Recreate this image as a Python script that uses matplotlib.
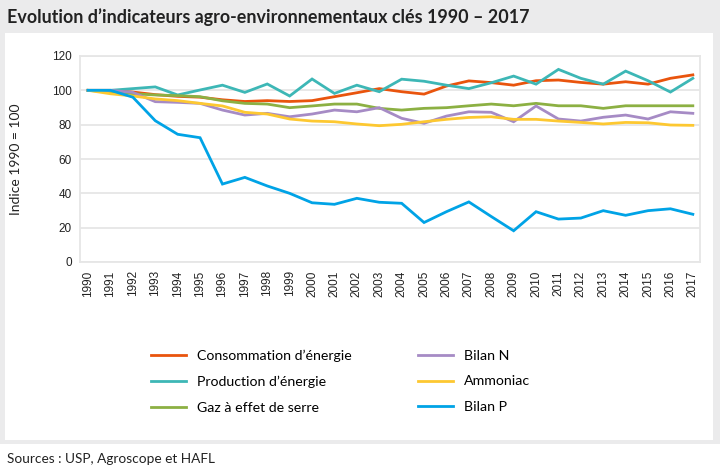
import matplotlib.pyplot as plt
from matplotlib.patches import Rectangle

years = list(range(1990, 2018))

conso_energie = [100, 100, 99, 97.5, 96.5, 96, 94.5, 93.5, 94, 93.5, 94, 96.3, 98.6, 101,
                 99.2, 97.8, 102.5, 105.5, 104.5, 103, 105.6, 106, 104.6, 103.6, 105, 103.6, 107, 109]
prod_energie = [100, 100, 101, 102, 97.3, 100.2, 103, 98.8, 103.7, 96.7, 106.6, 98.2, 103, 99.2,
                106.5, 105.3, 103, 101, 104.4, 108.3, 103.6, 112.2, 107, 103.6, 111.2, 105.6, 99, 107]
gaz_serre = [100, 99, 98, 97.3, 96.9, 96.3, 93.9, 92.4, 92, 89.9, 90.9, 92, 92, 89.5,
             88.5, 89.5, 89.9, 91, 92, 91, 92.4, 91, 91, 89.5, 91, 91, 91, 91]
bilan_n = [100, 100, 98.8, 93.4, 93, 92.4, 88.5, 85.6, 86.6, 84.6, 86.2, 88.5, 87.5, 89.9,
           83.7, 80.8, 85, 87.5, 87.2, 81.7, 90.9, 83.3, 82.1, 84.3, 85.6, 83.3, 87.5, 86.6]
ammoniac = [100, 98, 96.7, 95, 94, 92.4, 90.9, 87.2, 86.2, 83.3, 82.1, 81.7, 80.4, 79.4,
            80.2, 81.7, 83.1, 84.2, 84.6, 83.1, 83.1, 82.1, 81.3, 80.4, 81.3, 81.1, 79.8, 79.6]
bilan_p = [100, 100, 96, 82.3, 74.4, 72.4, 45.4, 49.3, 44.3, 40, 34.5, 33.6, 37.1, 34.8,
           34.2, 23, 29.3, 35, 26.5, 18.2, 29.3, 25, 25.6, 29.9, 27.2, 29.9, 31, 27.8]

series = [
    ("Consommation d\u2019énergie", conso_energie, "#e9540d"),
    ("Production d\u2019énergie", prod_energie, "#3db7b6"),
    ("Gaz à effet de serre", gaz_serre, "#8cb043"),
    ("Bilan N", bilan_n, "#a68bc5"),
    ("Ammoniac", ammoniac, "#fdc831"),
    ("Bilan P", bilan_p, "#00a3e6"),
]

W, H = 720, 472
fig = plt.figure(figsize=(W / 100, H / 100), dpi=100)
fig.patch.set_facecolor("#ebebec")

# white panels
fig.add_artist(Rectangle((5 / W, 1 - 440 / H), 708 / W, 407 / H,
                         transform=fig.transFigure, facecolor="white", edgecolor="none", zorder=0))
fig.add_artist(Rectangle((0, 0), 1, 28 / H,
                         transform=fig.transFigure, facecolor="white", edgecolor="none", zorder=0))

cond = ["Lato", "DejaVu Sans"]
tick_font = ["Liberation Sans", "DejaVu Sans"]

ax = fig.add_axes([80 / W, 1 - 262 / H, 620 / W, 206 / H])
lines = []
for name, vals, color in series:
    ln, = ax.plot(years, vals, color=color, lw=2.0, label=name, solid_joinstyle="miter")
    lines.append(ln)

ax.set_xlim(1989.64, 2017.32)
ax.set_ylim(0, 120)
ax.set_yticks(range(0, 121, 20))
ax.set_xticks(years)
ax.set_xticklabels([str(y) for y in years], rotation=90, family=tick_font, fontsize=8.5, color="#222222")
for lab in ax.get_yticklabels():
    lab.set_family(tick_font)
    lab.set_fontsize(8.5)
    lab.set_color("#222222")
ax.tick_params(length=0, pad=6)
ax.grid(axis="y", color="#e6e6e6", lw=1.3)
ax.set_axisbelow(True)
for s in ax.spines.values():
    s.set_color("#e6e6e6")
    s.set_linewidth(1.3)
ax.set_ylabel("Indice 1990 = 100", family=cond, fontsize=10, color="#222222")
ax.yaxis.set_label_coords((22 - 80) / 620, 0.5)

leg_kw = dict(loc="upper left", frameon=False, prop={"family": cond, "size": 10.2},
              handlelength=2.45, handletextpad=0.8, labelspacing=0.95,
              borderaxespad=0, borderpad=0)
fig.legend(lines[:3], [s[0] for s in series[:3]], bbox_to_anchor=(151 / W, 1 - 350 / H), **leg_kw)
fig.legend(lines[3:], [s[0] for s in series[3:]], bbox_to_anchor=(418 / W, 1 - 350 / H), **leg_kw)

fig.text(7 / W, 1 - 17 / H, "Evolution d\u2019indicateurs agro-environnementaux clés 1990 \u2013 2017",
         family=cond, fontsize=12.9, fontweight="bold", color="#222222", va="center", ha="left")
fig.text(7 / W, 1 - 459 / H, "Sources : USP, Agroscope et HAFL",
         family=cond, fontsize=9.8, color="#222222", va="center", ha="left")

fig.savefig("out.png", dpi=100, facecolor=fig.get_facecolor())
